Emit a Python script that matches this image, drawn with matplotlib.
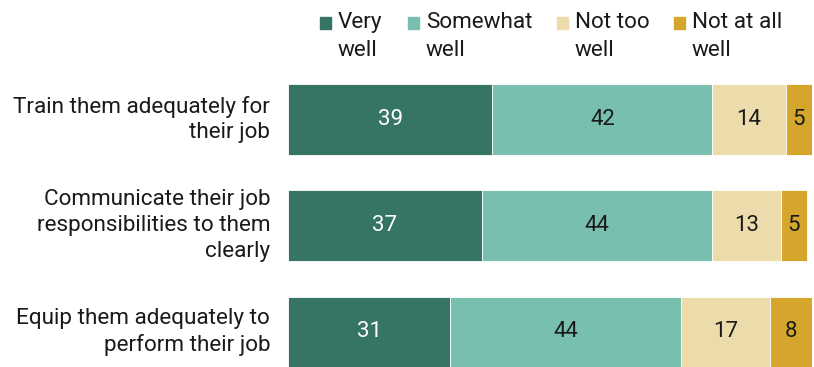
import numpy as np
import matplotlib.pyplot as plt
from matplotlib.patches import Rectangle

# datos
categorias = ['Train them adequately for\ntheir job',
              'Communicate their job\nresponsibilities to them\nclearly',
              'Equip them adequately to\nperform their job']
series = ['Very\nwell', 'Somewhat\nwell', 'Not too\nwell', 'Not at all\nwell']
muy_bien = [39, 37, 31]
algo_bien = [42, 44, 44]
no_tan_bien = [14, 13, 17]
nada_bien = [5, 5, 8]

colores = ['#367463', '#78bfb0', '#eddcab', '#d4a72c']
color_num = ['white', '#1a1a1a', '#1a1a1a', '#1a1a1a']

plt.rcParams['font.family'] = ['Roboto', 'DejaVu Sans']

W, H = 814, 367
fig = plt.figure(figsize=(W / 100, H / 100), dpi=100)
ax = fig.add_axes([288 / W, 0, 524 / W, 283 / H])

valores = [muy_bien, algo_bien, no_tan_bien, nada_bien]
y = np.arange(len(categorias))
izq = np.zeros(len(categorias))
for k, vals in enumerate(valores):
    vals = np.array(vals, dtype=float)
    ax.barh(y, vals, left=izq, height=0.667, color=colores[k],
            edgecolor='white', linewidth=0.6)
    for i in range(len(y)):
        ax.text(izq[i] + vals[i] / 2, y[i], str(int(vals[i])),
                ha='center', va='center', fontsize=16, color=color_num[k])
    izq += vals

ax.set_xlim(0, 100)
ax.set_ylim(2.33, -0.335)
ax.axis('off')

for i, cat in enumerate(categorias):
    ax.text(-3.4, y[i], cat, ha='right', va='center', fontsize=16.2,
            color='#1a1a1a', linespacing=1.3)

# leyenda manual
cuad_x = [320, 408, 557, 674]
for k in range(4):
    fig.patches.append(Rectangle((cuad_x[k] / W, 1 - 29 / H), 11 / W, 12 / H,
                                 transform=fig.transFigure, color=colores[k]))
    fig.text((cuad_x[k] + 18) / W, 1 - 12 / H, series[k], ha='left', va='top',
             fontsize=16.2, color='#1a1a1a', linespacing=1.45)

plt.savefig('out.png', dpi=100)
